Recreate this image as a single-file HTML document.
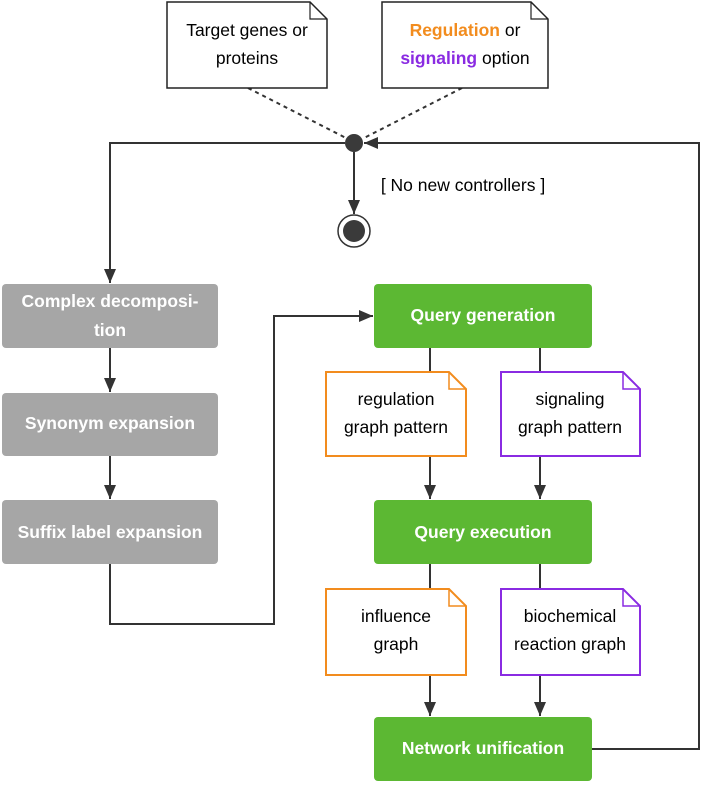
<!DOCTYPE html>
<html><head><meta charset="utf-8"><style>
html,body{margin:0;padding:0;background:#fff;}
svg text{font-family:"Liberation Sans",sans-serif;font-size:17.5px;text-anchor:middle;}
.w{fill:#fff;font-weight:bold;}
</style></head><body>
<svg width="702" height="783" viewBox="0 0 702 783" xmlns="http://www.w3.org/2000/svg">
<defs>
<marker id="a" viewBox="0 0 14 12" refX="14" refY="6" markerWidth="14" markerHeight="12" markerUnits="userSpaceOnUse" orient="auto"><path d="M0,0 L14,6 L0,12 z" fill="#333"/></marker>
</defs>
<g stroke="#333" stroke-width="2" fill="none">
<path d="M248,88 L346,138" stroke-dasharray="4,4"/>
<path d="M462,88 L364,138" stroke-dasharray="4,4"/>
<path d="M345,143 L110,143 L110,283" marker-end="url(#a)"/>
<path d="M592,749 L699,749 L699,143 L364,143" marker-end="url(#a)"/>
<path d="M354,152 L354,214" marker-end="url(#a)"/>
<path d="M110,348 L110,392" marker-end="url(#a)"/>
<path d="M110,456 L110,499" marker-end="url(#a)"/>
<path d="M110,564 L110,624 L274,624 L274,316 L373,316" marker-end="url(#a)"/>
<path d="M430,348 L430,372"/>
<path d="M540,348 L540,372"/>
<path d="M430,456 L430,499" marker-end="url(#a)"/>
<path d="M540,456 L540,499" marker-end="url(#a)"/>
<path d="M430,564 L430,589"/>
<path d="M540,564 L540,589"/>
<path d="M430,675 L430,716" marker-end="url(#a)"/>
<path d="M540,675 L540,716" marker-end="url(#a)"/>
</g>
<circle cx="354" cy="143" r="9" fill="#3a3a3a"/>
<circle cx="354" cy="231" r="16" fill="#fff" stroke="#333" stroke-width="1.5"/>
<circle cx="354" cy="231" r="11" fill="#3a3a3a"/>
<text x="463" y="191">[ No new controllers ]</text>

<path d="M167,2 L310,2 L327,19 L327,88 L167,88 z" fill="#fff" stroke="#222" stroke-width="1.5"/>
<path d="M310,2 L310,19 L327,19" fill="none" stroke="#222" stroke-width="1.2"/>
<text x="247" y="36">Target genes or</text>
<text x="247" y="64">proteins</text>
<path d="M382,2 L531,2 L548,19 L548,88 L382,88 z" fill="#fff" stroke="#222" stroke-width="1.5"/>
<path d="M531,2 L531,19 L548,19" fill="none" stroke="#222" stroke-width="1.2"/>
<text x="465" y="36"><tspan fill="#f28c1e" font-weight="bold">Regulation</tspan> or</text>
<text x="465" y="64"><tspan fill="#8a2be2" font-weight="bold">signaling</tspan> option</text>

<rect x="2" y="284" width="216" height="64" rx="4" fill="#a6a6a6"/>
<text class="w" x="110" y="307">Complex decomposi-</text>
<text class="w" x="110" y="336">tion</text>
<rect x="2" y="393" width="216" height="63" rx="4" fill="#a6a6a6"/>
<text class="w" x="110" y="429">Synonym expansion</text>
<rect x="2" y="500" width="216" height="64" rx="4" fill="#a6a6a6"/>
<text class="w" x="110" y="538">Suffix label expansion</text>

<rect x="374" y="284" width="218" height="64" rx="4" fill="#5cb833"/>
<text class="w" x="483" y="321">Query generation</text>
<rect x="374" y="500" width="218" height="64" rx="4" fill="#5cb833"/>
<text class="w" x="483" y="538">Query execution</text>
<rect x="374" y="717" width="218" height="64" rx="4" fill="#5cb833"/>
<text class="w" x="483" y="754">Network unification</text>

<g stroke-width="2" fill="#fff">
<path d="M326,372 L449,372 L466,389 L466,456 L326,456 z" stroke="#f28c1e"/>
<path d="M449,372 L449,389 L466,389" stroke="#f28c1e" fill="none" stroke-width="1.5"/>
<path d="M501,372 L623,372 L640,389 L640,456 L501,456 z" stroke="#8a2be2"/>
<path d="M623,372 L623,389 L640,389" stroke="#8a2be2" fill="none" stroke-width="1.5"/>
<path d="M326,589 L449,589 L466,606 L466,675 L326,675 z" stroke="#f28c1e"/>
<path d="M449,589 L449,606 L466,606" stroke="#f28c1e" fill="none" stroke-width="1.5"/>
<path d="M501,589 L623,589 L640,606 L640,675 L501,675 z" stroke="#8a2be2"/>
<path d="M623,589 L623,606 L640,606" stroke="#8a2be2" fill="none" stroke-width="1.5"/>
</g>
<text x="396" y="405">regulation</text>
<text x="396" y="433">graph pattern</text>
<text x="570" y="405">signaling</text>
<text x="570" y="433">graph pattern</text>
<text x="396" y="622">influence</text>
<text x="396" y="650">graph</text>
<text x="570" y="622">biochemical</text>
<text x="570" y="650">reaction graph</text>
</svg>
</body></html>
